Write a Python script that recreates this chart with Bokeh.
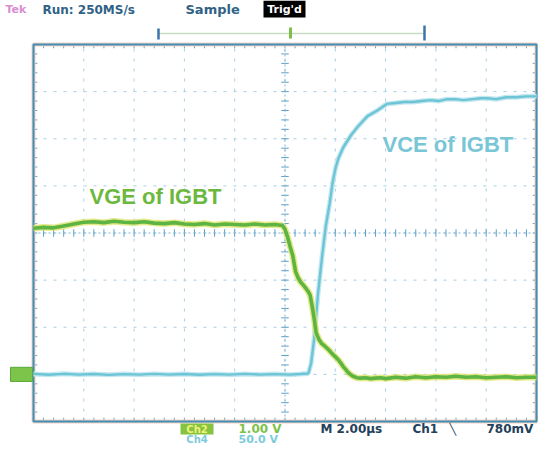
from bokeh.plotting import figure
from bokeh.models import Range1d, Label
from bokeh.embed import file_html
from bokeh.resources import INLINE

# ---------------- data (time in microseconds) ----------------
VGE_POINTS = [  # Ch2, volts
    (-10.0, 3.10), (-9.6, 3.12), (-9.2, 3.11), (-8.8, 3.15), (-8.4, 3.19), (-8.0, 3.23),
    (-7.6, 3.24), (-7.2, 3.22), (-6.8, 3.25), (-6.4, 3.23), (-6.0, 3.22), (-5.6, 3.24),
    (-5.2, 3.21), (-4.8, 3.20), (-4.4, 3.22), (-4.0, 3.19), (-3.6, 3.18), (-3.2, 3.20),
    (-2.8, 3.17), (-2.4, 3.19), (-2.0, 3.18), (-1.6, 3.17), (-1.2, 3.19), (-0.8, 3.17),
    (-0.4, 3.18), (-0.1, 3.16), (0.0, 3.08), (0.1, 2.92), (0.2, 2.72), (0.31, 2.52),
    (0.42, 2.18), (0.52, 2.05), (0.62, 1.96), (0.72, 1.90), (0.81, 1.84), (0.92, 1.76),
    (1.0, 1.68), (1.08, 1.45), (1.16, 1.18), (1.24, 0.88), (1.35, 0.74), (1.45, 0.66),
    (1.54, 0.62), (1.64, 0.57), (1.74, 0.52), (1.84, 0.46), (1.93, 0.41), (2.03, 0.36),
    (2.12, 0.31), (2.22, 0.24), (2.32, 0.16), (2.42, 0.10), (2.51, 0.04), (2.6, 0.0),
    (2.7, -0.04), (2.85, -0.07), (3.0, -0.08), (3.2, -0.07), (3.4, -0.09), (3.6, -0.08),
    (3.8, -0.07), (4.0, -0.09), (4.4, -0.06), (4.8, -0.08), (5.2, -0.05), (5.6, -0.07),
    (6.0, -0.05), (6.4, -0.06), (6.8, -0.04), (7.2, -0.06), (7.6, -0.05), (8.0, -0.07),
    (8.4, -0.06), (8.8, -0.05), (9.2, -0.07), (9.6, -0.06), (10.0, -0.06),
]
VCE_POINTS = [  # Ch4, volts
    (-10.0, 0.5), (-9.4, -0.4), (-8.8, 0.6), (-8.2, -0.2), (-7.6, 0.4), (-7.0, -0.5),
    (-6.4, 0.3), (-5.8, -0.3), (-5.2, 0.5), (-4.6, -0.2), (-4.0, 0.4), (-3.4, -0.4),
    (-2.8, 0.3), (-2.2, -0.3), (-1.6, 0.5), (-1.0, -0.2), (-0.4, 0.3), (0.2, -0.3),
    (0.6, 0.4), (0.93, 1.0), (1.04, 12.0), (1.16, 38.0), (1.31, 85.0), (1.47, 124.0),
    (1.62, 157.0), (1.78, 182.0), (1.89, 203.0), (2.01, 219.0), (2.12, 229.0),
    (2.32, 241.0), (2.63, 254.0), (2.9, 263.0), (3.28, 274.0), (3.67, 280.0),
    (4.05, 287.0), (4.4, 288.0), (4.75, 289.0), (5.1, 289.0), (5.44, 290.0), (5.8, 291.0),
    (6.1, 290.0), (6.45, 292.0), (6.76, 292.0), (7.1, 291.0), (7.45, 292.0), (7.8, 293.0),
    (8.03, 293.0), (8.4, 292.0), (8.8, 294.0), (9.2, 294.0), (9.6, 295.0), (10.0, 295.0),
]
CH2_VOLTS_PER_DIV = 1.0
CH4_VOLTS_PER_DIV = 50.0
GROUND_DIV = -3.0          # both channel ground markers, in divisions
TIME_PER_DIV = 2.0         # microseconds
TRACE_LABELS = ["VGE of IGBT", "VCE of IGBT"]
STATUS_TOP = ["Tek", "Run: 250MS/s", "Sample", "Trig'd"]
STATUS_BOTTOM = ["Ch2", "1.00 V", "Ch4", "50.0 V", "M 2.00\u00b5s", "Ch1", "\u2572", "780mV"]

vge_t = [a for a, _ in VGE_POINTS]
vge_v = [b for _, b in VGE_POINTS]
vce_t = [a for a, _ in VCE_POINTS]
vce_v = [b for _, b in VCE_POINTS]

# ---------------- figure / ranges ----------------
W, H = 538, 445
X0, X1 = -11.312, 10.0795         # microseconds across the whole canvas
Y0, Y1 = -4.509, 4.934            # divisions across the whole canvas

p = figure(width=W, height=H, output_backend="svg", toolbar_location=None,
           x_range=Range1d(X0, X1), y_range=Range1d(Y0, Y1),
           x_axis_location=None, y_axis_location=None, min_border=0,
           outline_line_color=None, background_fill_color="white",
           border_fill_color="white")
p.grid.visible = False
p.extra_y_ranges = {
    "ch2": Range1d((Y0 - GROUND_DIV) * CH2_VOLTS_PER_DIV, (Y1 - GROUND_DIV) * CH2_VOLTS_PER_DIV),
    "ch4": Range1d((Y0 - GROUND_DIV) * CH4_VOLTS_PER_DIV, (Y1 - GROUND_DIV) * CH4_VOLTS_PER_DIV),
}

def sx(px):  # canvas pixel -> time
    return X0 + px * (X1 - X0) / W

def sy(py):  # canvas pixel -> divisions
    return Y1 - py * (Y1 - Y0) / H

XL, XR = -5 * TIME_PER_DIV, 5 * TIME_PER_DIV
YB, YT = -4.0, 4.0

# ---------------- graticule ----------------
gx = [XL + i * TIME_PER_DIV for i in range(1, 10)]
gy = [YB + i for i in range(1, 8)]
p.segment(x0=gx, y0=[YB] * len(gx), x1=gx, y1=[YT] * len(gx),
          line_color="#a8cde3", line_width=1, line_dash="3 7")
p.segment(x0=[XL] * len(gy), y0=gy, x1=[XR] * len(gy), y1=gy,
          line_color="#a8cde3", line_width=1, line_dash="3 7")

mt_x = [XL + i * TIME_PER_DIV / 5 for i in range(1, 50)]
mt_y = [YB + i / 5 for i in range(1, 40)]
tx, ty = 0.15, 0.08
p.segment(x0=mt_x, y0=[-ty] * len(mt_x), x1=mt_x, y1=[ty] * len(mt_x),
          line_color="#5d9fc6", line_width=1)
p.segment(x0=[-tx] * len(mt_y), y0=mt_y, x1=[tx] * len(mt_y), y1=mt_y,
          line_color="#5d9fc6", line_width=1)
p.segment(x0=mt_x, y0=[YT] * len(mt_x), x1=mt_x, y1=[YT - ty] * len(mt_x),
          line_color="#5d9fc6", line_width=1)
p.segment(x0=mt_x, y0=[YB] * len(mt_x), x1=mt_x, y1=[YB + ty] * len(mt_x),
          line_color="#5d9fc6", line_width=1)
p.segment(x0=[XL] * len(mt_y), y0=mt_y, x1=[XL + tx] * len(mt_y), y1=mt_y,
          line_color="#5d9fc6", line_width=1)
p.segment(x0=[XR] * len(mt_y), y0=mt_y, x1=[XR - tx] * len(mt_y), y1=mt_y,
          line_color="#5d9fc6", line_width=1)
p.segment(x0=[XL, 0], y0=[0, YB], x1=[XR, 0], y1=[0, YT],
          line_color="#7fb3d3", line_width=1, line_dash="2 3")

# border
p.quad(left=XL, right=XR, bottom=YB, top=YT, fill_color=None,
       line_color="#f4cfc2", line_width=4)
p.quad(left=XL, right=XR, bottom=YB, top=YT, fill_color=None,
       line_color="#3f8fb6", line_width=2)

# ---------------- traces ----------------
p.line(vce_t, vce_v, y_range_name="ch4", line_color="#c4e8ef", line_width=5)
p.line(vce_t, vce_v, y_range_name="ch4", line_color="#6cc4d6", line_width=2.4)
p.line(vge_t, vge_v, y_range_name="ch2", line_color="#dde56c", line_width=6.5, line_alpha=0.8)
p.line(vge_t, vge_v, y_range_name="ch2", line_color="#5db443", line_width=3.6)

# ground marker (Ch2 on top of Ch4)
p.quad(left=sx(10), right=sx(32), bottom=-0.15, top=0.15, y_range_name="ch2",
       fill_color="#7cc44a", line_color="#5aa83a", line_width=1)

# ---------------- labels ----------------
def lab(px, py, txt, color, size="13px", font="DejaVu Sans", align="left"):
    p.add_layout(Label(x=sx(px), y=sy(py), text=txt, text_align=align,
                       text_baseline="middle", text_font=font,
                       text_font_style="bold", text_font_size=size, text_color=color))

lab(89, 196, TRACE_LABELS[0], "#6cb83e", size="22px", font="Liberation Sans")
lab(382, 144, TRACE_LABELS[1], "#78c6d6", size="22px", font="Liberation Sans")

# status bar (top)
lab(5, 9, STATUS_TOP[0], "#d88ed2", size="11px")
lab(42, 9, STATUS_TOP[1], "#2f6286", size="12px")
lab(185, 9, STATUS_TOP[2], "#2f6286")
p.quad(left=sx(263), right=sx(305), bottom=sy(17), top=sy(0), fill_color="black", line_color=None)
lab(284, 9, STATUS_TOP[3], "white", size="11px", align="center")

# trigger position bar
p.segment(x0=[sx(158)], y0=[sy(33)], x1=[sx(424)], y1=[sy(33)], line_color="#c9dcc3", line_width=1.5)
p.segment(x0=[sx(158), sx(424)], y0=[sy(28), sy(25)], x1=[sx(158), sx(424)], y1=[sy(39), sy(40)],
          line_color="#3b74a8", line_width=2.5)
p.segment(x0=[sx(290)], y0=[sy(27)], x1=[sx(290)], y1=[sy(38)], line_color="#7cc04a", line_width=3)

# status bar (bottom)
R1, R2 = 428.5, 438.5
p.quad(left=sx(180), right=sx(213), bottom=sy(R1 + 5.5), top=sy(R1 - 5.5),
       fill_color="#86c440", line_color=None)
lab(196.5, R1, STATUS_BOTTOM[0], "#eef27a", size="10px", align="center")
lab(238, R1, STATUS_BOTTOM[1], "#7cc247", size="12px")
lab(196.5, R2, STATUS_BOTTOM[2], "#7ccbdb", size="10px", align="center")
lab(238, R2, STATUS_BOTTOM[3], "#7ccbdb", size="11px")
lab(320, R1, STATUS_BOTTOM[4], "#25405a", size="12px")
lab(412, R1, STATUS_BOTTOM[5], "#25405a", size="12px")
lab(449, R1, STATUS_BOTTOM[6], "#25405a", size="11px")
lab(486, R1, STATUS_BOTTOM[7], "#25405a", size="12px")

open("out.html", "w").write(file_html(p, INLINE))
